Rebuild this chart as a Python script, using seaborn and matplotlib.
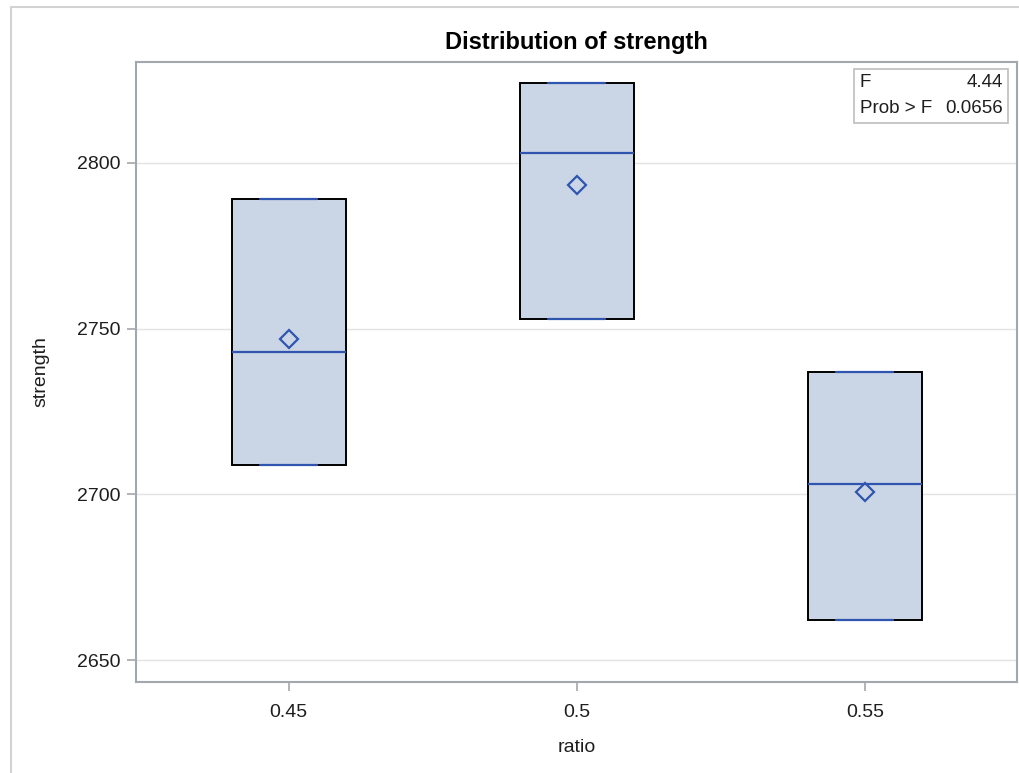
import numpy as np
import pandas as pd
import matplotlib
matplotlib.use("Agg")
import matplotlib.pyplot as plt
from matplotlib.lines import Line2D
import seaborn as sns

# Observations of strength for each water/cement ratio level
ratio_levels = ["0.45", "0.5", "0.55"]
strength_045 = [2709, 2743, 2789]
strength_050 = [2753, 2803, 2824]
strength_055 = [2662, 2703, 2737]
y_ticks = [2650, 2700, 2750, 2800]

# One-way ANOVA summary shown in the inset
stat_labels = ["F", "Prob > F"]
stat_values = ["4.44", "0.0656"]

groups = [strength_045, strength_050, strength_055]
df = pd.DataFrame({
    "ratio": np.repeat(ratio_levels, [len(g) for g in groups]),
    "strength": np.concatenate(groups),
})

FILL = "#CAD5E6"
BLUE = "#2F55AE"
FRAME = "#A3A8AE"
TEXT = "#1E1E1E"


def pctl_def5(values, p):
    """Empirical percentile with averaging (PCTLDEF=5)."""
    x = np.sort(np.asarray(values, dtype=float))
    n = len(x)
    np_ = n * p
    j = int(np.floor(np_))
    if np.isclose(np_, j):
        return (x[j - 1] + x[j]) / 2 if j > 0 else x[0]
    return x[j]


box_stats = []
for label, g in zip(ratio_levels, groups):
    box_stats.append(dict(
        label=label,
        q1=pctl_def5(g, 0.25),
        med=pctl_def5(g, 0.5),
        q3=pctl_def5(g, 0.75),
        whislo=min(g),
        whishi=max(g),
        mean=np.mean(g),
        fliers=[],
    ))

sns.set_style("white")
plt.rcParams["font.family"] = ["Liberation Sans", "DejaVu Sans"]

fig = plt.figure(figsize=(10.2, 7.73), dpi=100)
ax = fig.add_axes([136.5 / 1020, 1 - 682 / 773, (1017 - 136.5) / 1020, (682 - 62) / 773])

# Boxes (min / median / max with SAS-style quartiles)
ax.bxp(
    box_stats,
    positions=[0, 1, 2],
    widths=0.396,
    patch_artist=True,
    showmeans=False,
    showfliers=False,
    manage_ticks=False,
    boxprops=dict(facecolor=FILL, edgecolor="black", linewidth=1.4),
    medianprops=dict(color=BLUE, linewidth=1.6, zorder=3),
    whiskerprops=dict(color=BLUE, linewidth=1.4),
    capprops=dict(color=BLUE, linewidth=1.6, zorder=3),
)

# Group means as hollow diamonds
sns.pointplot(
    data=df, x="ratio", y="strength", order=ratio_levels,
    estimator="mean", errorbar=None, linestyle="none", markers="D",
    color=BLUE, markerfacecolor="none", markeredgecolor=BLUE,
    markersize=9.5, markeredgewidth=1.6, ax=ax, zorder=4,
)

ax.set_xlim(-0.528, 2.528)
ax.set_ylim(2643.4, 2830.4)
ax.set_yticks(y_ticks)
ax.set_yticklabels([str(t) for t in y_ticks])
ax.set_xticks([0, 1, 2])
ax.set_xticklabels(ratio_levels)

ax.yaxis.grid(True, color="#E3E3E3", linewidth=1.0)
ax.xaxis.grid(False)
ax.set_axisbelow(True)

for s in ax.spines.values():
    s.set_visible(True)
    s.set_color(FRAME)
    s.set_linewidth(1.5)

ax.tick_params(axis="both", which="major", length=6.5, width=1.2, color=FRAME,
               labelsize=14, labelcolor=TEXT, pad=5, left=True, bottom=True)
ax.tick_params(axis="x", pad=9)

ax.set_xlabel("ratio", fontsize=14, color=TEXT)
ax.set_ylabel("strength", fontsize=14, color=TEXT)
ax.xaxis.set_label_coords(0.5, -0.0925)
ax.yaxis.set_label_coords(-0.099, 0.5)

ax.set_title("Distribution of strength", fontsize=17, fontweight="bold",
             color="black", pad=9)

# ANOVA inset table
x0, y0, x1, y1 = 854, 69, 1008, 123
inset = plt.Rectangle((x0 / 1020, 1 - y1 / 773), (x1 - x0) / 1020, (y1 - y0) / 773,
                      transform=fig.transFigure, facecolor="white",
                      edgecolor="#BDBDBD", linewidth=1.2, zorder=5)
fig.patches.append(inset)
row_y = [82.5, 108.5]
for lab, val, ry in zip(stat_labels, stat_values, row_y):
    fig.text(860 / 1020, 1 - ry / 773, lab, ha="left", va="center",
             fontsize=13.5, color=TEXT, zorder=6)
    fig.text(1003 / 1020, 1 - ry / 773, val, ha="right", va="center",
             fontsize=13.5, color=TEXT, zorder=6)

# Light outer frame of the graph
fig.add_artist(Line2D([11 / 1020, 11 / 1020], [0, 1 - 7 / 773],
                      transform=fig.transFigure, color="#D2D2D2", linewidth=1.5))
fig.add_artist(Line2D([11 / 1020, 1], [1 - 7 / 773, 1 - 7 / 773],
                      transform=fig.transFigure, color="#D2D2D2", linewidth=1.5))

fig.savefig("out.png", dpi=100)
